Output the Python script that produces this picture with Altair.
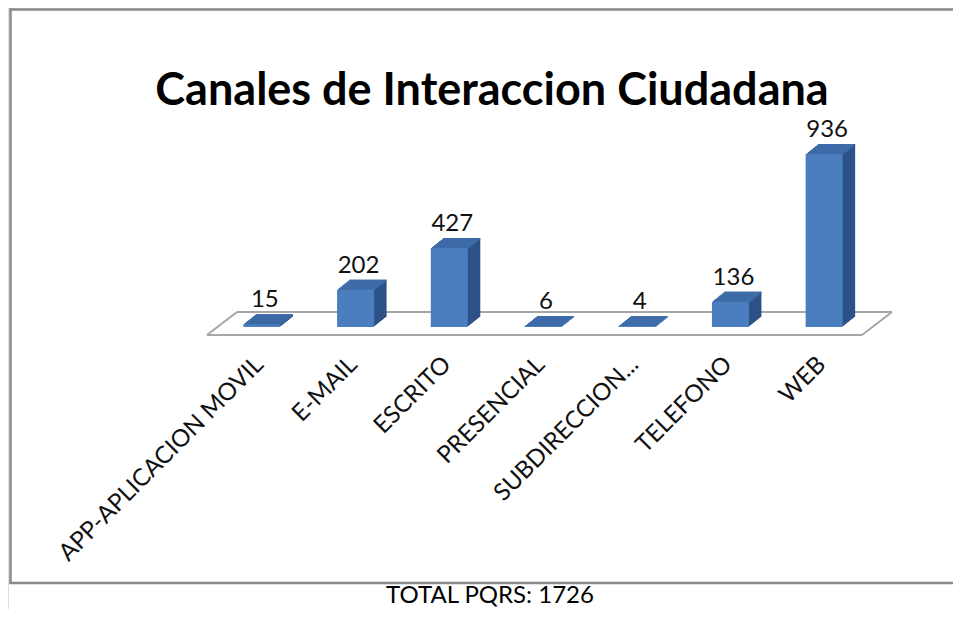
import altair as alt
import pandas as pd

categories = ["APP-APLICACION MOVIL", "E-MAIL", "ESCRITO", "PRESENCIAL",
              "SUBDIRECCION...", "TELEFONO", "WEB"]
values = [15, 202, 427, 6, 4, 136, 936]
title_text = "Canales de Interaccion Ciudadana"
footer_text = "TOTAL PQRS: 1726"

df = pd.DataFrame({"canal": categories, "valor": values})

W, H = 945, 601
FONT = "Lato"
FRONT = "#4A7EBE"
TOP = "#3D6BA9"
SIDE = "#2D5287"
DEPTH = 10
DX = 1.25

x_scale = alt.Scale(domain=categories, range=[207, 863],
                    paddingInner=0.605, paddingOuter=0.3025)
y_scale = alt.Scale(domain=[0, 936], range=[319, 146], nice=False, zero=True)

X = alt.X("canal:N", scale=x_scale, axis=None, sort=categories)
Y = alt.Y("valor:Q", scale=y_scale, axis=None)

base = alt.Chart(df)
dummy = alt.Chart(alt.Data(values=[{"k": 1}]))

layers = []

# outer frame (top, left, bottom edges; right edge lies outside the picture)
frame_col = "#8a8a8a"
for (x1, y1, x2, y2) in [(1.5, 1.5, W, 1.5), (2.5, 0.5, 2.5, 576),
                         (1.5, 575, W, 575)]:
    layers.append(dummy.mark_rule(color=frame_col, strokeWidth=2.5).encode(
        x=alt.value(x1), x2=alt.value(x2), y=alt.value(y1), y2=alt.value(y2)))

# floor (decorative parallelogram)
floor_col = "#a6a6a6"
for (x1, y1, x2, y2) in [(199, 327, 854, 327), (229, 304, 884, 304),
                         (199, 327, 229, 304), (854, 327, 884, 304)]:
    layers.append(dummy.mark_rule(color=floor_col, strokeWidth=2).encode(
        x=alt.value(x1), x2=alt.value(x2), y=alt.value(y1), y2=alt.value(y2)))

# side faces (stacked shifted copies)
for i in range(DEPTH, 0, -1):
    layers.append(base.mark_bar(color=SIDE, xOffset=DX * i, x2Offset=DX * i,
                                yOffset=-i, y2Offset=-i).encode(x=X, y=Y))

# top faces (slices)
for i in range(DEPTH, 0, -1):
    layers.append(base.mark_bar(color=TOP, xOffset=DX * i, x2Offset=DX * i,
                                yOffset=-i, y2Offset=-i + 1.6).encode(
        x=X, y=Y, y2=alt.Y2("valor:Q")))

# front faces
layers.append(base.mark_bar(color=FRONT).encode(x=X, y=Y))

# value labels
layers.append(base.mark_text(font=FONT, fontSize=24, color="#111111",
                             baseline="alphabetic", dy=-17, dx=3).encode(
    x=X, y=Y, text="valor:Q"))

# category labels
layers.append(base.mark_text(font=FONT, fontSize=24, color="#111111", angle=315,
                             align="right", baseline="middle", xOffset=-2).encode(
    x=X, y=alt.value(353), text="canal:N"))

# title
layers.append(dummy.mark_text(text=title_text, font=FONT, fontSize=45, fontWeight="bold",
                              color="#000000", align="center", baseline="alphabetic").encode(
    x=alt.value(484), y=alt.value(97)))

# footer
layers.append(dummy.mark_text(text=footer_text, font=FONT, fontSize=24,
                              color="#000000", align="center", baseline="alphabetic").encode(
    x=alt.value(482), y=alt.value(595)))

chart = alt.layer(*layers).properties(
    width=W, height=H, padding=0, autosize=alt.AutoSizeParams(type="none")
).configure_view(stroke="transparent", strokeWidth=0).configure(background="white")

chart.save("out.html", embed_options={"renderer": "svg", "actions": False})
